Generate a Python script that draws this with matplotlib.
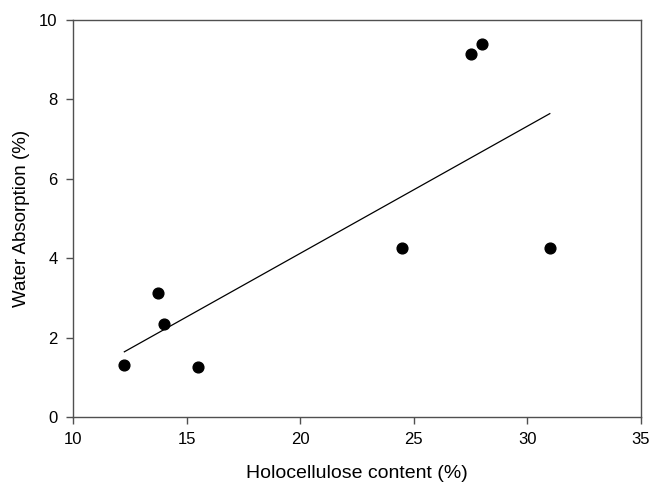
import numpy as np
import matplotlib
matplotlib.use("Agg")
import matplotlib.pyplot as plt

plt.rcParams['font.family'] = ['Liberation Sans', 'DejaVu Sans']

# holocellulose content (%) vs water absorption (%)
holocellulose = [12.26, 13.75, 14.0, 15.52, 24.5, 27.5, 27.99, 30.99]
water_absorption = [1.30, 3.12, 2.35, 1.25, 4.25, 9.14, 9.39, 4.25]

x = np.array(holocellulose)
y = np.array(water_absorption)

# linear regression line across the data range
slope, intercept = np.polyfit(x, y, 1)
xfit = np.array([x.min(), x.max()])
yfit = slope * xfit + intercept

fig = plt.figure(figsize=(6.49, 4.82), dpi=100)
ax = fig.add_axes([0.1125, 0.135, 0.875, 0.8235])

ax.plot(xfit, yfit, color='black', linewidth=0.9)
ax.scatter(x, y, s=60, color='black', zorder=3)

ax.set_xlim(10, 35)
ax.set_ylim(0, 10)
ax.set_xticks([10, 15, 20, 25, 30, 35])
ax.set_yticks([0, 2, 4, 6, 8, 10])

for sp in ax.spines.values():
    sp.set_color('#505050')
    sp.set_linewidth(1.0)
ax.tick_params(direction='out', length=5, width=1.0, color='#505050',
               labelsize=12, pad=6)

ax.set_xlabel('Holocellulose content (%)', fontsize=14, labelpad=13)
ax.set_ylabel('Water Absorption (%)', fontsize=13.5, labelpad=7)

fig.savefig('out.png', dpi=100)
